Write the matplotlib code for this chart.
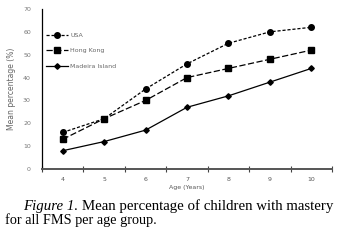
import matplotlib.pyplot as plt
import numpy as np

ages = [4, 5, 6, 7, 8, 9, 10]
usa = [16, 22, 35, 46, 55, 60, 62]
hong_kong = [13, 22, 30, 40, 44, 48, 52]
madeira = [8, 12, 17, 27, 32, 38, 44]

fig = plt.figure(figsize=(3.45, 2.41), dpi=100)
ax = fig.add_axes([42 / 345, 1 - 169 / 241, 290 / 345, 160 / 241])

ax.plot(ages, usa, color='black', lw=0.9, ls=(0, (2.5, 1.5)), marker='o', ms=4, label='USA')
ax.plot(ages, hong_kong, color='black', lw=0.9, ls=(0, (5, 2)), marker='s', ms=4, label='Hong Kong')
ax.plot(ages, madeira, color='black', lw=0.9, ls='-', marker='D', ms=2.8, label='Madeira Island')

ax.set_xlim(3.5, 10.5)
ax.set_ylim(0, 70)
ax.set_yticks(range(0, 71, 10))
ax.set_xticks(ages)
ax.set_xticks(np.arange(3.5, 10.6, 1), minor=True)
ax.tick_params(axis='x', which='major', length=0, labelsize=4.5, labelcolor='#555555', pad=6)
ax.tick_params(axis='x', which='minor', length=5, direction='inout', color='#444444', width=0.8)
ax.tick_params(axis='y', length=0, labelsize=4.5, labelcolor='#777777', pad=8)

for s in ['top', 'right']:
    ax.spines[s].set_visible(False)
ax.spines['left'].set_linewidth(0.9)
ax.spines['bottom'].set_color('#555555')
ax.spines['bottom'].set_linewidth(1.4)

ax.set_ylabel('Mean percentage (%)', fontsize=5.5, color='#666666', labelpad=5)
ax.set_xlabel('Age (Years)', fontsize=4.5, color='#555555', labelpad=2)

leg = ax.legend(loc='upper left', bbox_to_anchor=(0.0, 0.88), frameon=False, fontsize=4.5,
                handlelength=3.5, labelspacing=1.6, handletextpad=0.3, borderaxespad=0.3)
for t in leg.get_texts():
    t.set_color('#666666')

# caption: italic "Figure 1." followed by regular text
cap_font = 'Liberation Serif'
t1 = fig.text(23 / 345, 1 - 210 / 241, 'Figure 1.', fontsize=10.7, family=cap_font,
              style='italic', va='baseline')
fig.canvas.draw()
bb = t1.get_window_extent()
x_next = (bb.x1 + 4) / fig.bbox.width
fig.text(x_next, 1 - 210 / 241, 'Mean percentage of children with mastery', fontsize=10.7,
         family=cap_font, va='baseline')
fig.text(5 / 345, 1 - 224 / 241, 'for all FMS per age group.', fontsize=10.3,
         family=cap_font, va='baseline')

fig.savefig('out.png', dpi=100)
